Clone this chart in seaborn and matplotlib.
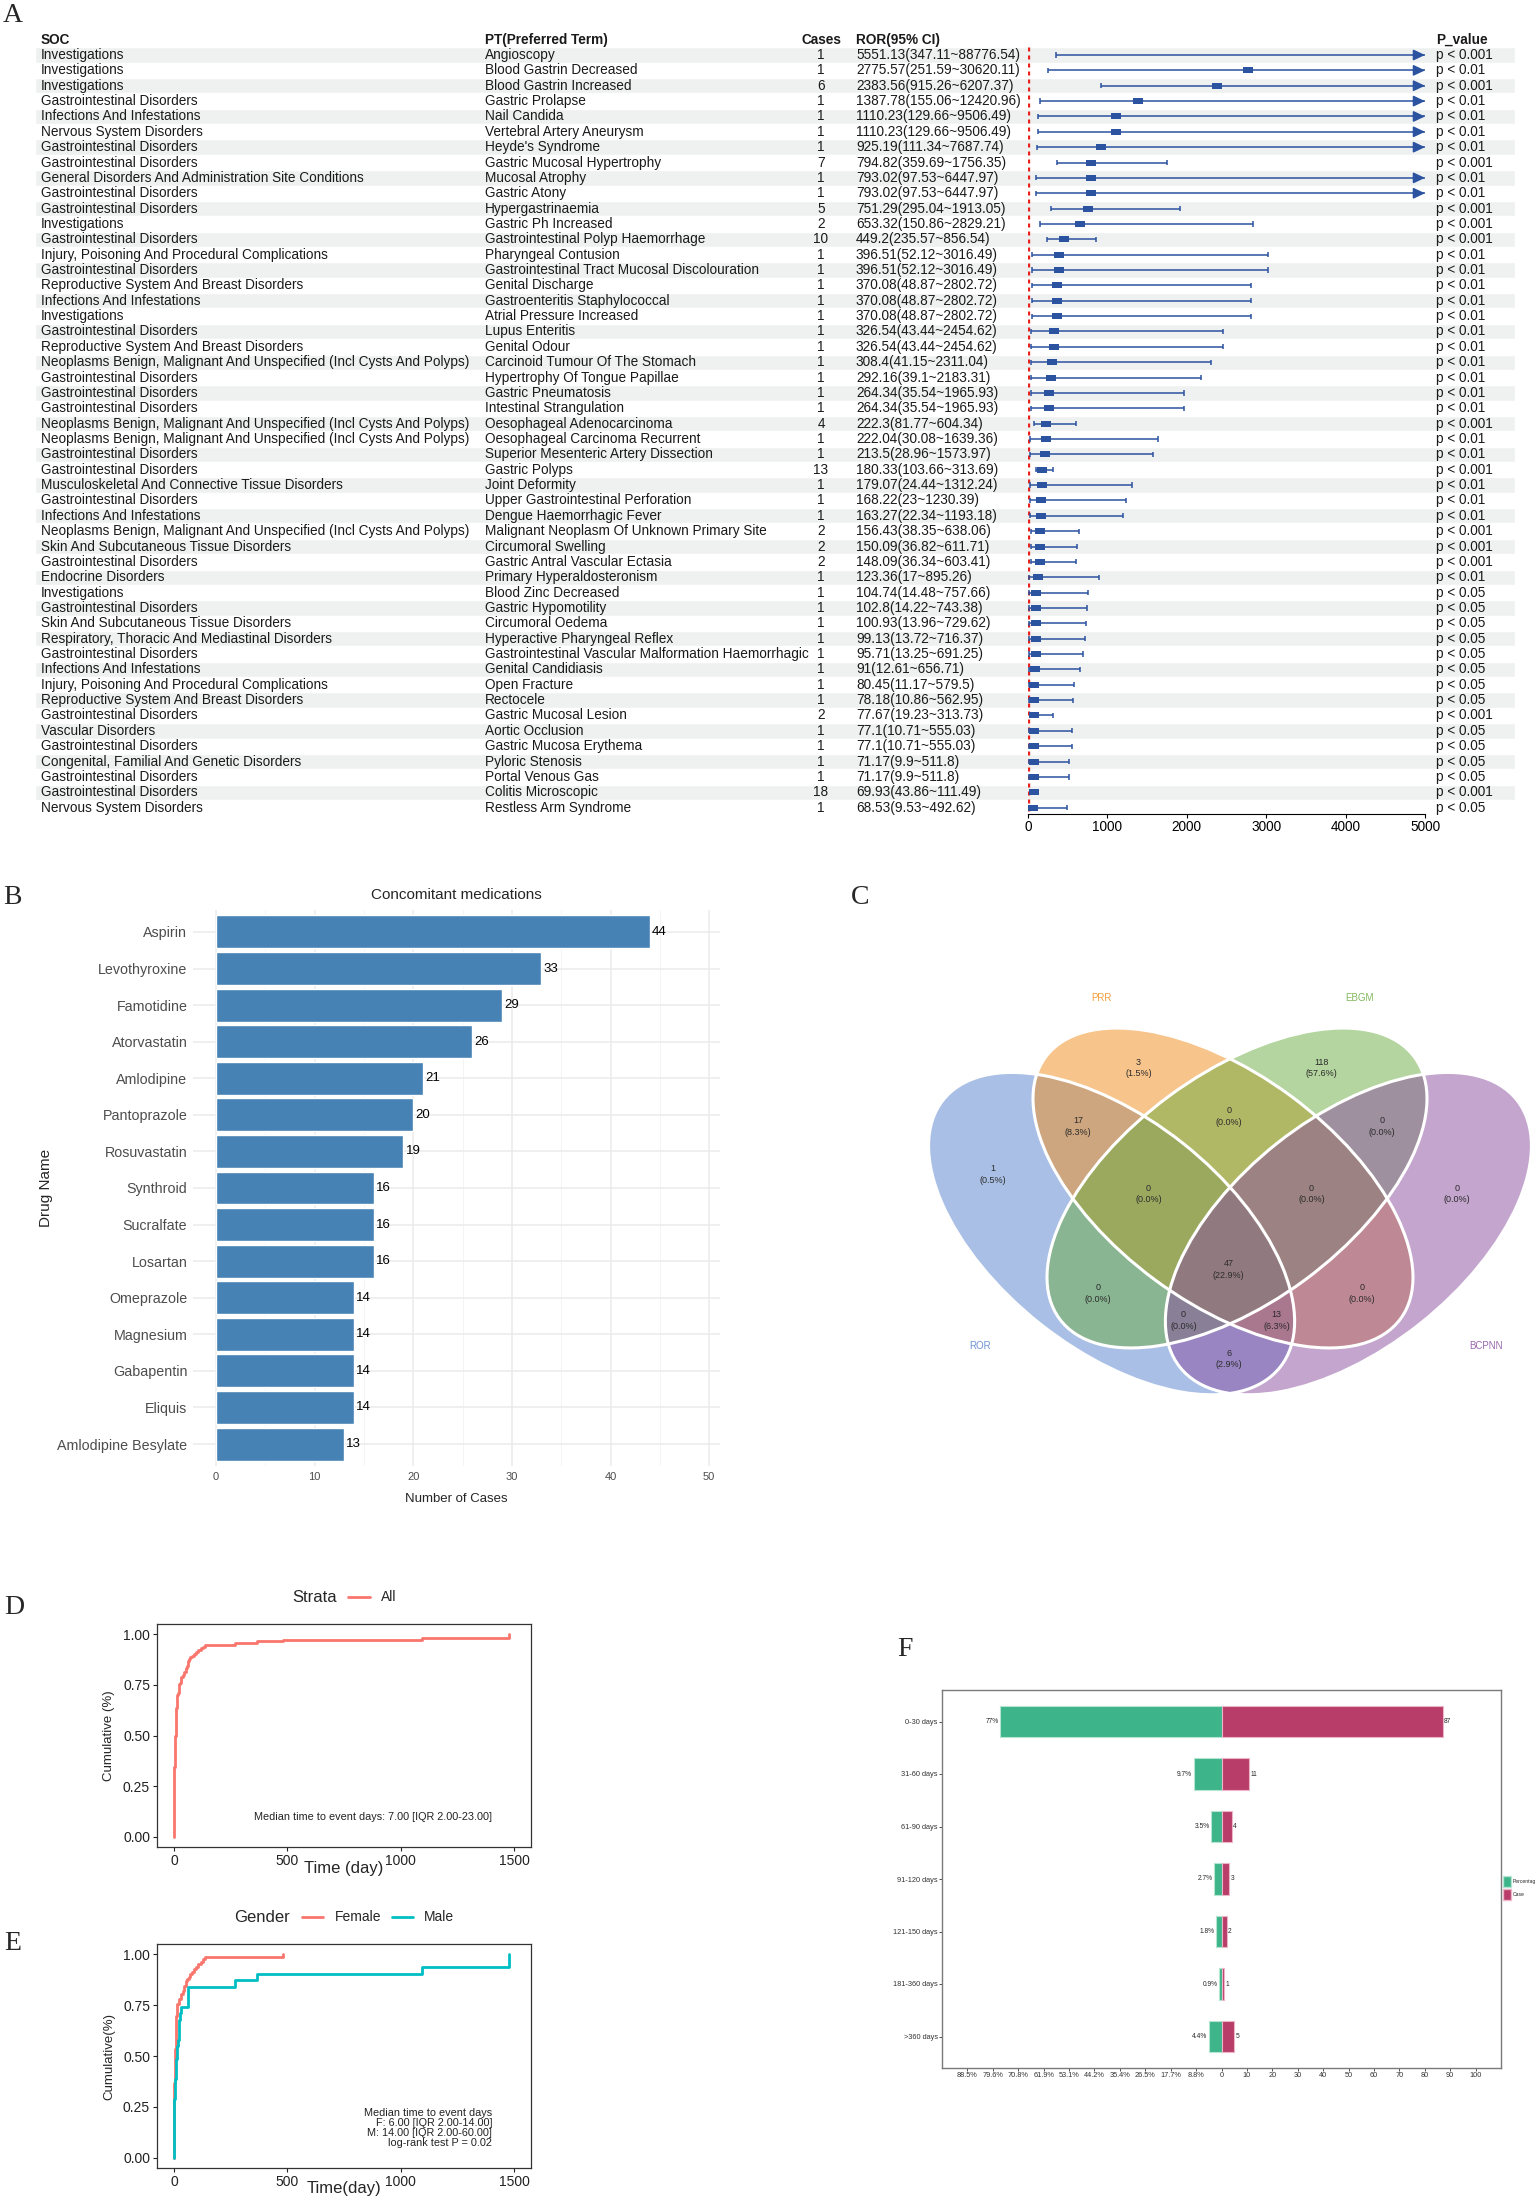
import numpy as np
import pandas as pd
import seaborn as sns
import matplotlib.pyplot as plt
from matplotlib.lines import Line2D
from matplotlib.patches import Ellipse, Patch
from matplotlib.ticker import MultipleLocator
from matplotlib import font_manager

# ---------------- data ----------------
# A: ROR signals
soc = [
    "Investigations", "Investigations", "Investigations", "Gastrointestinal Disorders",
    "Infections And Infestations", "Nervous System Disorders", "Gastrointestinal Disorders",
    "Gastrointestinal Disorders", "General Disorders And Administration Site Conditions",
    "Gastrointestinal Disorders", "Gastrointestinal Disorders", "Investigations",
    "Gastrointestinal Disorders", "Injury, Poisoning And Procedural Complications",
    "Gastrointestinal Disorders", "Reproductive System And Breast Disorders",
    "Infections And Infestations", "Investigations", "Gastrointestinal Disorders",
    "Reproductive System And Breast Disorders",
    "Neoplasms Benign, Malignant And Unspecified (Incl Cysts And Polyps)",
    "Gastrointestinal Disorders", "Gastrointestinal Disorders", "Gastrointestinal Disorders",
    "Neoplasms Benign, Malignant And Unspecified (Incl Cysts And Polyps)",
    "Neoplasms Benign, Malignant And Unspecified (Incl Cysts And Polyps)",
    "Gastrointestinal Disorders", "Gastrointestinal Disorders",
    "Musculoskeletal And Connective Tissue Disorders", "Gastrointestinal Disorders",
    "Infections And Infestations",
    "Neoplasms Benign, Malignant And Unspecified (Incl Cysts And Polyps)",
    "Skin And Subcutaneous Tissue Disorders", "Gastrointestinal Disorders",
    "Endocrine Disorders", "Investigations", "Gastrointestinal Disorders",
    "Skin And Subcutaneous Tissue Disorders", "Respiratory, Thoracic And Mediastinal Disorders",
    "Gastrointestinal Disorders", "Infections And Infestations",
    "Injury, Poisoning And Procedural Complications", "Reproductive System And Breast Disorders",
    "Gastrointestinal Disorders", "Vascular Disorders", "Gastrointestinal Disorders",
    "Congenital, Familial And Genetic Disorders", "Gastrointestinal Disorders",
    "Gastrointestinal Disorders", "Nervous System Disorders",
]
pt = [
    "Angioscopy", "Blood Gastrin Decreased", "Blood Gastrin Increased", "Gastric Prolapse",
    "Nail Candida", "Vertebral Artery Aneurysm", "Heyde's Syndrome", "Gastric Mucosal Hypertrophy",
    "Mucosal Atrophy", "Gastric Atony", "Hypergastrinaemia", "Gastric Ph Increased",
    "Gastrointestinal Polyp Haemorrhage", "Pharyngeal Contusion",
    "Gastrointestinal Tract Mucosal Discolouration", "Genital Discharge",
    "Gastroenteritis Staphylococcal", "Atrial Pressure Increased", "Lupus Enteritis",
    "Genital Odour", "Carcinoid Tumour Of The Stomach", "Hypertrophy Of Tongue Papillae",
    "Gastric Pneumatosis", "Intestinal Strangulation", "Oesophageal Adenocarcinoma",
    "Oesophageal Carcinoma Recurrent", "Superior Mesenteric Artery Dissection", "Gastric Polyps",
    "Joint Deformity", "Upper Gastrointestinal Perforation", "Dengue Haemorrhagic Fever",
    "Malignant Neoplasm Of Unknown Primary Site", "Circumoral Swelling",
    "Gastric Antral Vascular Ectasia", "Primary Hyperaldosteronism", "Blood Zinc Decreased",
    "Gastric Hypomotility", "Circumoral Oedema", "Hyperactive Pharyngeal Reflex",
    "Gastrointestinal Vascular Malformation Haemorrhagic", "Genital Candidiasis", "Open Fracture",
    "Rectocele", "Gastric Mucosal Lesion", "Aortic Occlusion", "Gastric Mucosa Erythema",
    "Pyloric Stenosis", "Portal Venous Gas", "Colitis Microscopic", "Restless Arm Syndrome",
]
cases = [1, 1, 6, 1, 1, 1, 1, 7, 1, 1, 5, 2, 10, 1, 1, 1, 1, 1, 1, 1, 1, 1, 1, 1, 4,
         1, 1, 13, 1, 1, 1, 2, 2, 2, 1, 1, 1, 1, 1, 1, 1, 1, 1, 2, 1, 1, 1, 1, 18, 1]
ror = [5551.13, 2775.57, 2383.56, 1387.78, 1110.23, 1110.23, 925.19, 794.82, 793.02, 793.02,
       751.29, 653.32, 449.2, 396.51, 396.51, 370.08, 370.08, 370.08, 326.54, 326.54,
       308.4, 292.16, 264.34, 264.34, 222.3, 222.04, 213.5, 180.33, 179.07, 168.22,
       163.27, 156.43, 150.09, 148.09, 123.36, 104.74, 102.8, 100.93, 99.13, 95.71,
       91, 80.45, 78.18, 77.67, 77.1, 77.1, 71.17, 71.17, 69.93, 68.53]
ror_low = [347.11, 251.59, 915.26, 155.06, 129.66, 129.66, 111.34, 359.69, 97.53, 97.53,
           295.04, 150.86, 235.57, 52.12, 52.12, 48.87, 48.87, 48.87, 43.44, 43.44,
           41.15, 39.1, 35.54, 35.54, 81.77, 30.08, 28.96, 103.66, 24.44, 23,
           22.34, 38.35, 36.82, 36.34, 17, 14.48, 14.22, 13.96, 13.72, 13.25,
           12.61, 11.17, 10.86, 19.23, 10.71, 10.71, 9.9, 9.9, 43.86, 9.53]
ror_high = [88776.54, 30620.11, 6207.37, 12420.96, 9506.49, 9506.49, 7687.74, 1756.35, 6447.97, 6447.97,
            1913.05, 2829.21, 856.54, 3016.49, 3016.49, 2802.72, 2802.72, 2802.72, 2454.62, 2454.62,
            2311.04, 2183.31, 1965.93, 1965.93, 604.34, 1639.36, 1573.97, 313.69, 1312.24, 1230.39,
            1193.18, 638.06, 611.71, 603.41, 895.26, 757.66, 743.38, 729.62, 716.37, 691.25,
            656.71, 579.5, 562.95, 313.73, 555.03, 555.03, 511.8, 511.8, 111.49, 492.62]
p_text = (["p < 0.001", "p < 0.01", "p < 0.001"] + ["p < 0.01"] * 4 + ["p < 0.001"]
          + ["p < 0.01"] * 2 + ["p < 0.001"] * 3 + ["p < 0.01"] * 11 + ["p < 0.001", "p < 0.01",
          "p < 0.01", "p < 0.001", "p < 0.01", "p < 0.01", "p < 0.01", "p < 0.001", "p < 0.001",
          "p < 0.001", "p < 0.01"] + ["p < 0.05"] * 8 + ["p < 0.001"] + ["p < 0.05"] * 4
          + ["p < 0.001", "p < 0.05"])

# B: concomitant medications
drugs = ["Aspirin", "Levothyroxine", "Famotidine", "Atorvastatin", "Amlodipine", "Pantoprazole",
         "Rosuvastatin", "Synthroid", "Sucralfate", "Losartan", "Omeprazole", "Magnesium",
         "Gabapentin", "Eliquis", "Amlodipine Besylate"]
drug_cases = [44, 33, 29, 26, 21, 20, 19, 16, 16, 16, 14, 14, 14, 14, 13]

# C: Venn regions, membership in (ROR, PRR, EBGM, BCPNN)
venn_sets = ["ROR", "PRR", "EBGM", "BCPNN"]
venn_regions = [(1, 0, 0, 0), (0, 1, 0, 0), (0, 0, 1, 0), (0, 0, 0, 1),
                (1, 1, 0, 0), (0, 1, 1, 0), (0, 0, 1, 1), (1, 0, 1, 0), (0, 1, 0, 1), (1, 0, 0, 1),
                (1, 1, 1, 0), (0, 1, 1, 1), (1, 0, 1, 1), (1, 1, 0, 1), (1, 1, 1, 1)]
venn_counts = [1, 3, 118, 0, 17, 0, 0, 0, 0, 6, 0, 0, 0, 13, 47]

# D/E: onset days and number of cases
female_days = [0, 1, 2, 3, 4, 5, 6, 7, 8, 9, 10, 12, 13, 14, 20, 23, 33, 38, 45, 52, 58,
               65, 72, 80, 88, 98, 107, 118, 128, 138, 480]
female_n = [12, 8, 10, 5, 4, 1, 4, 6, 2, 2, 3, 2, 1, 2, 1, 1, 2, 1, 2, 2, 1,
            1, 1, 1, 1, 1, 1, 1, 1, 1, 1]
male_days = [0, 1, 2, 3, 5, 7, 10, 14, 17, 20, 22, 28, 30, 60, 270, 365, 1095, 1480]
male_n = [5, 2, 2, 1, 2, 2, 1, 2, 1, 2, 1, 1, 1, 3, 1, 1, 1, 2]

# F: onset time groups
tto_bins = ["0-30 days", "31-60 days", "61-90 days", "91-120 days", "121-150 days",
            "181-360 days", ">360 days"]
tto_cases = [87, 11, 4, 3, 2, 1, 5]

# ---------------- figure ----------------
sns.set_theme(style="white")
plt.rcParams["font.family"] = ["Liberation Sans", "DejaVu Sans"]
plt.rcParams["axes.unicode_minus"] = False

W, H = 1535, 2198
fig = plt.figure(figsize=(W / 100, H / 100), dpi=100)


def add_ax(left, top, right, bottom):
    return fig.add_axes([left / W, 1 - bottom / H, (right - left) / W, (bottom - top) / H])


def fig_text(x, y, s, **kw):
    fig.text(x / W, 1 - y / H, s, **kw)


def fig_line(x1, x2, y, **kw):
    fig.add_artist(Line2D([x1 / W, x2 / W], [1 - y / H] * 2, transform=fig.transFigure, **kw))


narrow_name = "Liberation Sans Narrow"
have_narrow = any(f.name == narrow_name for f in font_manager.fontManager.ttflist)
narrow = [narrow_name, "Liberation Sans"] if have_narrow else ["Liberation Sans"]
small_fs = 6.2 if have_narrow else 5.3

for letter, x, y in [("A", 3, 15), ("B", 3, 898), ("C", 851, 897),
                     ("D", 4, 1608), ("E", 4, 1944), ("F", 897, 1649)]:
    fig_text(x, y, letter, family="Liberation Serif", fontsize=20, va="center", ha="left")

# ---------------- A: table + forest ----------------
n = len(soc)
rows = np.arange(n)
ylim_a = (n - 0.586, -1.628)
axA = add_ax(0, 30, W, 814)
axA.set_xlim(0, W)
axA.set_ylim(*ylim_a)
axA.axis("off")
axA.barh(rows[::2], 1480, left=35, height=1.0, color="#EFF1F1", zorder=0)

tab_kw = dict(fontsize=9.8, va="center", color="#1a1a1a")
for x, s, ha in [(41, "SOC", "left"), (485, "PT(Preferred Term)", "left"), (821, "Cases", "center"),
                 (856, "ROR(95% CI)", "left"), (1436, "P_value", "left")]:
    axA.text(x, -1, s, ha=ha, fontweight="bold", **tab_kw)


def fmt(v):
    return f"{v:.2f}".rstrip("0").rstrip(".")


for i in rows:
    axA.text(41, i, soc[i], ha="left", **tab_kw)
    axA.text(485, i, pt[i], ha="left", **tab_kw)
    axA.text(821, i, str(cases[i]), ha="center", **tab_kw)
    axA.text(856, i, f"{fmt(ror[i])}({fmt(ror_low[i])}~{fmt(ror_high[i])})", ha="left", **tab_kw)
    axA.text(1436, i, p_text[i], ha="left", **tab_kw)

blue = "#2B53A0"
xmax = 5000
axFo = add_ax(1028, 30, 1425, 814)
axFo.set_xlim(0, xmax)
axFo.set_ylim(*ylim_a)
axFo.patch.set_alpha(0)
est = np.array(ror)
lo = np.array(ror_low)
hi = np.array(ror_high)
axFo.vlines(1, -0.5, ylim_a[0], colors="#E8211C", linestyles=(0, (1.2, 1.2)), lw=2.4, zorder=1)
axFo.hlines(rows, lo, np.minimum(hi, xmax), colors=blue, lw=1.1, zorder=2)
cap = 0.17
axFo.vlines(lo, rows - cap, rows + cap, colors=blue, lw=1.1, zorder=2)
fits = hi <= xmax
axFo.vlines(hi[fits], rows[fits] - cap, rows[fits] + cap, colors=blue, lw=1.1, zorder=2)
for i in rows[~fits]:
    axFo.annotate("", xy=(xmax, i), xytext=(xmax - 150, i), annotation_clip=False,
                  arrowprops=dict(arrowstyle="-|>,head_length=0.7,head_width=0.33", color=blue,
                                  lw=1.1, shrinkA=0, shrinkB=0, mutation_scale=10))
shown = est <= xmax
axFo.scatter(est[shown], rows[shown], marker=[(-1, -0.63), (1, -0.63), (1, 0.63), (-1, 0.63)],
             s=46, color=blue, linewidths=0, zorder=3)
for side in ["top", "left", "right"]:
    axFo.spines[side].set_visible(False)
axFo.spines["bottom"].set_color("black")
axFo.spines["bottom"].set_linewidth(0.8)
axFo.set_yticks([])
axFo.set_xticks(np.arange(0, xmax + 1, 1000))
axFo.tick_params(axis="x", labelsize=9.8, length=3, width=0.8, pad=1, colors="black", bottom=True)

# ---------------- B: concomitant medications ----------------
axB = add_ax(193, 910, 720, 1466)
sns.barplot(x=drug_cases, y=drugs, color="#4682B4", saturation=1, width=0.9, errorbar=None,
            orient="h", ax=axB)
axB.set_ylim(len(drugs) - 0.4, -0.6)
axB.set_axisbelow(True)
axB.xaxis.set_major_locator(MultipleLocator(10))
axB.xaxis.set_minor_locator(MultipleLocator(5))
axB.grid(True, which="major", axis="both", color="#EBEBEB", lw=1.1)
axB.grid(True, which="minor", axis="x", color="#F2F2F2", lw=0.6)
sns.despine(ax=axB, left=True, bottom=True)
axB.tick_params(which="both", length=0)
axB.tick_params(axis="y", labelsize=10.3, labelcolor="#4D4D4D", pad=4)
axB.tick_params(axis="x", labelsize=8, labelcolor="#4D4D4D", pad=4)
axB.set_xlim(-2.33, 51.1)
axB.bar_label(axB.containers[0], padding=1.5, fontsize=9.5, color="black")
axB.set_title("Concomitant medications", fontsize=11, pad=8)
axB.set_xlabel("Number of Cases", fontsize=9.5)
axB.xaxis.set_label_coords(0.5, -0.0486)
axB.xaxis.label.set_va("top")
axB.set_ylabel("Drug Name", fontsize=11)
axB.yaxis.set_label_coords(-0.266, 0.5)

# ---------------- C: Venn (drawn in pixel units) ----------------
c_left, c_top, c_right, c_bot = 900, 990, 1535, 1420
axC = add_ax(c_left, c_top, c_right, c_bot)
axC.set_xlim(c_left, c_right)
axC.set_ylim(c_bot, c_top)
axC.axis("off")
# centre x, centre y, semi-major, semi-minor, angle (y grows downward)
ellipses = [(1111.6, 1233.6, 215.0, 115.1, 38.4), (1223.0, 1188.0, 220.5, 114.3, 36.4),
            (1237.0, 1188.0, 220.5, 114.3, -36.4), (1348.4, 1233.6, 215.0, 115.1, -38.4)]
venn_fill = ["#5580CC", "#F18D19", "#6BAD41", "#894D9F"]
for (cx, cy, a, b, ang), col in zip(ellipses, venn_fill):
    axC.add_patch(Ellipse((cx, cy), 2 * a, 2 * b, angle=ang, facecolor=col, alpha=0.5, lw=0))
for cx, cy, a, b, ang in ellipses:
    axC.add_patch(Ellipse((cx, cy), 2 * a, 2 * b, angle=ang, fill=False, edgecolor="white", lw=2.2))

gx, gy = np.meshgrid(np.linspace(910, 1535, 250), np.linspace(1000, 1410, 170))


def in_ellipse(cx, cy, a, b, ang):
    t = np.deg2rad(ang)
    dx, dy = gx - cx, gy - cy
    u = dx * np.cos(t) + dy * np.sin(t)
    v = -dx * np.sin(t) + dy * np.cos(t)
    return (u / a) ** 2 + (v / b) ** 2 <= 1


masks = [in_ellipse(*e) for e in ellipses]
total = sum(venn_counts)
for comb, cnt in zip(venn_regions, venn_counts):
    m = np.ones(gx.shape, bool)
    for k, flag in enumerate(comb):
        m &= masks[k] if flag else ~masks[k]
    pad = np.pad(m, 1)
    core = pad[1:-1, 1:-1] & pad[:-2, 1:-1] & pad[2:, 1:-1] & pad[1:-1, :-2] & pad[1:-1, 2:]
    edge = m & ~core
    p = np.c_[gx[m], gy[m]]
    e = np.c_[gx[edge], gy[edge]]
    d2 = (p ** 2).sum(1)[:, None] + (e ** 2).sum(1)[None, :] - 2 * p @ e.T
    best = np.argmax(d2.min(1))
    axC.text(p[best, 0], p[best, 1], f"{cnt}\n({cnt / total * 100:.1f}%)", ha="center",
             va="center", fontsize=6.5, linespacing=1.4, color="#2b2b2b")

cat_xy = {"ROR": (980, 1346), "PRR": (1101, 998), "EBGM": (1359, 998), "BCPNN": (1486, 1346)}
for name, col in zip(venn_sets, venn_fill):
    axC.text(*cat_xy[name], name, color=col, fontsize=7, ha="center", va="center", alpha=0.85)


# ---------------- D/E: cumulative onset curves ----------------
def onset_curve(days, counts):
    s = pd.Series(counts, index=days).groupby(level=0).sum().sort_index()
    cum = s.cumsum() / s.sum()
    return np.r_[0, s.index.values], np.r_[0, cum.values]


red, teal = "#F8766D", "#00BFC4"


def style_km(ax, ylab, xlab, xlab_top):
    ax.set_xlim(-75, 1575)
    ax.set_ylim(-0.05, 1.05)
    ax.set_xticks([0, 500, 1000, 1500])
    ax.set_yticks([0, 0.25, 0.5, 0.75, 1.0])
    ax.set_yticklabels([f"{t:.2f}" for t in [0, 0.25, 0.5, 0.75, 1.0]])
    for sp in ax.spines.values():
        sp.set_visible(True)
        sp.set_color("#333333")
        sp.set_linewidth(0.9)
    ax.tick_params(labelsize=10, length=3, width=0.8, colors="#222222", direction="out",
                   bottom=True, left=True, pad=2)
    ax.set_ylabel(ylab, fontsize=9.5)
    ax.yaxis.set_label_coords(-0.112, 0.5)
    ax.set_xlabel(xlab, fontsize=12)
    ax.xaxis.set_label_coords(0.5, xlab_top)
    ax.xaxis.label.set_va("top")


axD = add_ax(157, 1624, 531, 1847)
xd, yd = onset_curve(female_days + male_days, female_n + male_n)
sns.lineplot(x=xd, y=yd, drawstyle="steps-post", color=red, linewidth=2, estimator=None,
             sort=False, ax=axD)
style_km(axD, "Cumulative (%)", "Time (day)", -0.063)
axD.text(1403, 0.10, "Median time to event days: 7.00 [IQR 2.00-23.00]", ha="right", va="center",
         fontsize=7.8, color="#222222")
fig_text(292, 1597, "Strata", fontsize=12, va="center")
fig_line(348, 370, 1597, color=red, lw=2)
fig_text(381, 1597, "All", fontsize=10, va="center")

axE = add_ax(157, 1944, 531, 2168)
xf, yf = onset_curve(female_days, female_n)
xm, ym = onset_curve(male_days, male_n)
sns.lineplot(x=xf, y=yf, drawstyle="steps-post", color=red, linewidth=2, estimator=None,
             sort=False, ax=axE)
sns.lineplot(x=xm, y=ym, drawstyle="steps-post", color=teal, linewidth=2, estimator=None,
             sort=False, ax=axE)
style_km(axE, "Cumulative(%)", "Time(day)", -0.058)
axE.text(1403, 0.05, "Median time to event days\nF: 6.00 [IQR 2.00-14.00]\n"
         "M: 14.00 [IQR 2.00-60.00]\nlog-rank test P = 0.02", ha="right", va="bottom",
         multialignment="right", fontsize=7.8, linespacing=1.0, color="#222222")
fig_text(234, 1917, "Gender", fontsize=12, va="center")
fig_line(302, 323, 1917, color=red, lw=2)
fig_text(335, 1917, "Female", fontsize=10, va="center")
fig_line(392, 413, 1917, color=teal, lw=2)
fig_text(424, 1917, "Male", fontsize=10, va="center")

# ---------------- F: time to onset ----------------
green, magenta = "#3DB489", "#B83D69"
axF = add_ax(942, 1690, 1501, 2068)
tto = np.array(tto_cases)
sns.barplot(x=-tto, y=tto_bins, color=green, saturation=1, width=0.6, errorbar=None, orient="h",
            edgecolor="#B5E6D2", linewidth=0.8, ax=axF)
sns.barplot(x=tto, y=tto_bins, color=magenta, saturation=1, width=0.6, errorbar=None, orient="h",
            edgecolor="#EDB5C8", linewidth=0.8, ax=axF)
axF.set_xlim(-110, 110)
axF.set_ylim(len(tto_bins) - 0.4, -0.6)
ticks = np.arange(-100, 101, 10)
axF.set_xticks(ticks)
axF.set_xticklabels([f"{-t / tto.sum() * 100:.1f}%" if t < 0 else str(t) for t in ticks],
                    family=narrow)
axF.set_yticks(range(len(tto_bins)))
axF.set_yticklabels(tto_bins, family=narrow)
axF.tick_params(labelsize=small_fs, length=2, width=0.6, colors="#333333", bottom=True, left=True, pad=1)
for sp in axF.spines.values():
    sp.set_visible(True)
    sp.set_color("#7A7A7A")
    sp.set_linewidth(1.0)
axF.set_xlabel("")
axF.set_ylabel("")
pct = [f"{round(c / tto.sum() * 100, 1):g}%" for c in tto]
axF.bar_label(axF.containers[0], labels=pct, padding=1, fontsize=small_fs - 0.5, family=narrow)
axF.bar_label(axF.containers[1], labels=[str(c) for c in tto], padding=1,
              fontsize=small_fs - 0.5, family=narrow)
axF.legend(handles=[Patch(facecolor=green, edgecolor="#B5E6D2", label="Percentage"),
                    Patch(facecolor=magenta, edgecolor="#EDB5C8", label="Case")],
           loc="center left", bbox_to_anchor=(1.0, 0.476), frameon=False, fontsize=3.6,
           handlelength=1.6, handleheight=3.2, labelspacing=0.3, handletextpad=0.3,
           borderpad=0, borderaxespad=0.4)

fig.savefig("out.png", dpi=100)
